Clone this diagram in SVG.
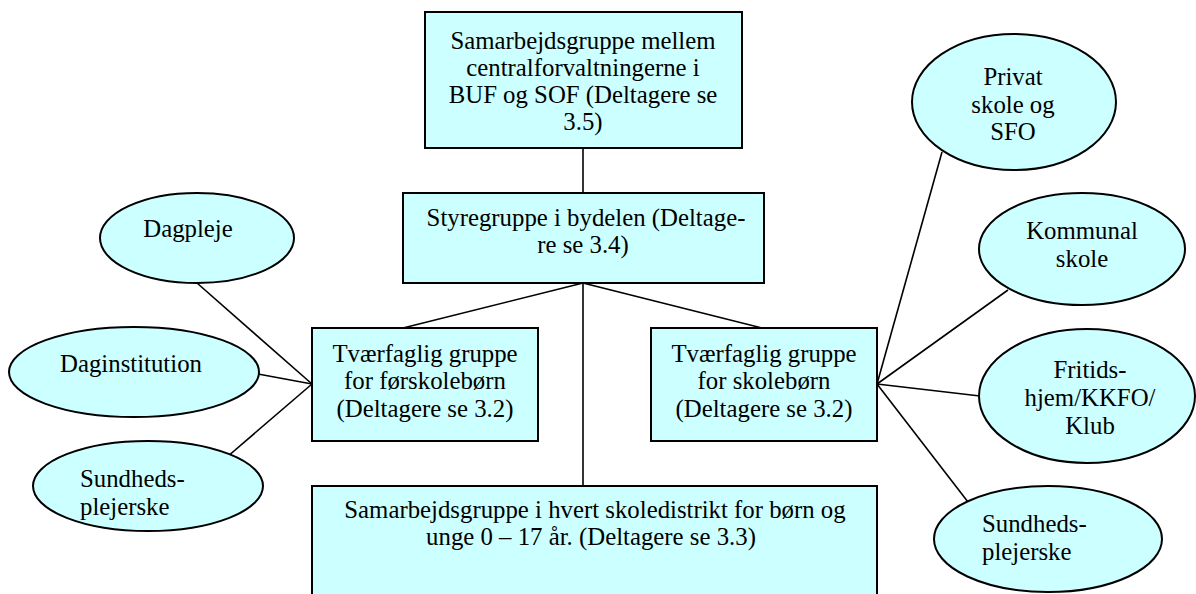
<svg xmlns="http://www.w3.org/2000/svg" width="1196" height="594" viewBox="0 0 1196 594">
<style>
.n{fill:#CCFFFF;stroke:#000;stroke-width:2}
.c line{stroke:#000;stroke-width:1.6}
</style>
<rect width="1196" height="594" fill="#fff"/>
<g class="c" id="connectors">
<line x1="583" y1="148" x2="583" y2="193"/>
<line x1="583" y1="283" x2="403" y2="328"/>
<line x1="583" y1="283" x2="762" y2="328"/>
<line x1="583" y1="283" x2="583" y2="486"/>
<line x1="197" y1="283" x2="312" y2="384"/>
<line x1="258" y1="374" x2="312" y2="384"/>
<line x1="227" y1="457" x2="312" y2="384"/>
<line x1="942" y1="152" x2="877" y2="384"/>
<line x1="1008" y1="290" x2="877" y2="384"/>
<line x1="980" y1="396" x2="877" y2="384"/>
<line x1="968" y1="502" x2="877" y2="384"/>
</g>
<g id="top">
<rect class="n" x="425" y="12" width="317" height="136"/>
<text font-family="Liberation Serif" font-size="24.8" text-anchor="middle"><tspan x="583" y="49">Samarbejdsgruppe mellem</tspan><tspan x="583" y="76">centralforvaltningerne i</tspan><tspan x="583" y="103">BUF og SOF (Deltagere se</tspan><tspan x="583" y="130">3.5)</tspan></text>
</g>
<g id="styregruppe">
<rect class="n" x="403" y="193" width="361" height="90"/>
<text font-family="Liberation Serif" font-size="24.8" text-anchor="middle"><tspan x="586" y="226">Styregruppe i bydelen (Deltage-</tspan><tspan x="583" y="253">re se 3.4)</tspan></text>
</g>
<g id="tvaer-forskole">
<rect class="n" x="312" y="328" width="226" height="113"/>
<text font-family="Liberation Serif" font-size="24.8" text-anchor="middle"><tspan x="425" y="362">Tværfaglig gruppe</tspan><tspan x="425" y="389">for førskolebørn</tspan><tspan x="425" y="417">(Deltagere se 3.2)</tspan></text>
</g>
<g id="tvaer-skole">
<rect class="n" x="651" y="328" width="226" height="113"/>
<text font-family="Liberation Serif" font-size="24.8" text-anchor="middle"><tspan x="764" y="362">Tværfaglig gruppe</tspan><tspan x="764" y="389">for skolebørn</tspan><tspan x="764" y="417">(Deltagere se 3.2)</tspan></text>
</g>
<g id="skoledistrikt">
<rect class="n" x="312" y="486" width="565" height="120"/>
<text font-family="Liberation Serif" font-size="24.8" text-anchor="middle"><tspan x="595" y="518">Samarbejdsgruppe i hvert skoledistrikt for børn og</tspan><tspan x="591" y="545">unge 0 – 17 år. (Deltagere se 3.3)</tspan></text>
</g>
<g id="dagpleje">
<ellipse class="n" cx="197" cy="238" rx="97" ry="45"/>
<text font-family="Liberation Serif" font-size="24.8" text-anchor="middle" x="188" y="237">Dagpleje</text>
</g>
<g id="daginstitution">
<ellipse class="n" cx="134" cy="372" rx="125" ry="45"/>
<text font-family="Liberation Serif" font-size="24.8" text-anchor="middle" x="131" y="372">Daginstitution</text>
</g>
<g id="sundhed-venstre">
<ellipse class="n" cx="148" cy="486" rx="115" ry="45"/>
<text font-family="Liberation Serif" font-size="24.8"><tspan x="80" y="487">Sundheds-</tspan><tspan x="80" y="515">plejerske</tspan></text>
</g>
<g id="privat">
<ellipse class="n" cx="1014" cy="102" rx="102" ry="68"/>
<text font-family="Liberation Serif" font-size="24.8" text-anchor="middle"><tspan x="1013" y="85">Privat</tspan><tspan x="1013" y="113">skole og</tspan><tspan x="1013" y="140">SFO</tspan></text>
</g>
<g id="kommunal">
<ellipse class="n" cx="1082" cy="249" rx="103" ry="56"/>
<text font-family="Liberation Serif" font-size="24.8" text-anchor="middle"><tspan x="1082" y="239">Kommunal</tspan><tspan x="1082" y="267">skole</tspan></text>
</g>
<g id="fritids">
<ellipse class="n" cx="1087" cy="396" rx="108" ry="67"/>
<text font-family="Liberation Serif" font-size="24.8" text-anchor="middle"><tspan x="1090" y="378">Fritids-</tspan><tspan x="1090" y="406">hjem/KKFO/</tspan><tspan x="1090" y="434">Klub</tspan></text>
</g>
<g id="sundhed-hoejre">
<ellipse class="n" cx="1048" cy="539" rx="114" ry="53"/>
<text font-family="Liberation Serif" font-size="24.8"><tspan x="982" y="532">Sundheds-</tspan><tspan x="982" y="560">plejerske</tspan></text>
</g>
</svg>
